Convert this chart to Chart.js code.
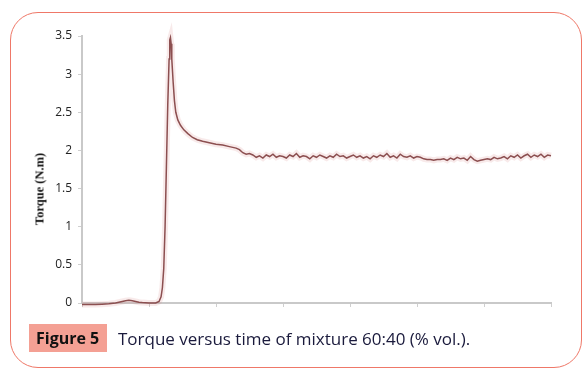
<!doctype html>
<html lang="en">
<head>
  <meta charset="utf-8" />
  <title>Torque versus time</title>
  <script src="https://cdn.jsdelivr.net/npm/chart.js@4.4.1/dist/chart.umd.min.js"></script>
  <style>
    body { margin: 0; background: #fff; width: 586px; height: 373px; position: relative; overflow: hidden; }
    .frame {
      position: absolute; left: 10px; top: 12px; width: 570px; height: 354px;
      border: 1.5px solid #ef7868; border-radius: 28px;
    }
    .chartBox { position: absolute; left: 0; top: 0; width: 586px; height: 330px; }
    .yTitle {
      position: absolute; left: 40px; top: 189px; white-space: nowrap;
      font-family: "Liberation Serif", serif; font-weight: bold; font-size: 12.5px; color: #111;
      transform: translate(-50%, -50%) rotate(-90deg);
    }
    .caption {
      position: absolute; left: 29px; top: 324px; height: 28px;
      font-family: "Open Sans", sans-serif; font-size: 17px; color: #1a1a3c;
      display: flex; align-items: center; white-space: nowrap;
    }
    .caption .tag {
      background: #f4a094; font-weight: bold; color: #111; font-size: 16px;
      height: 28px; line-height: 28px; padding: 0 7px; width: 64px; margin-right: 11px;
    }
  </style>
</head>
<body>
  <div class="frame"></div>
  <div class="chartBox"><canvas id="torqueChart"></canvas></div>
  <div class="yTitle">Torque (N.m)</div>
  <div class="caption"><span class="tag">Figure 5</span>Torque versus time of mixture 60:40 (% vol.).</div>
<script>
  // time (arbitrary units, one tick = 100) and torque (N.m)
  var times = [0, 10, 20, 30, 40, 50, 55, 60, 65, 70, 75, 80, 85, 90, 100, 110, 115, 118, 120, 122, 124, 126, 128, 130, 131, 132, 133, 134, 136, 138, 140, 143, 147, 152, 158, 165, 172, 180, 190, 200, 210, 220, 230, 235, 240, 245, 250,
    255, 260, 265, 270, 275, 280, 285, 290, 295, 300, 305, 310, 315, 320, 325, 330, 335, 340, 345, 350, 355, 360, 365, 370, 375, 380, 385, 390, 395, 400,
    405, 410, 415, 420, 425, 430, 435, 440, 445, 450, 455, 460, 465, 470, 475, 480, 485, 490, 495, 500, 505, 510, 515, 520, 525, 530, 535, 540, 545, 550,
    555, 560, 565, 570, 575, 580, 585, 590, 595, 600, 605, 610, 615, 620, 625, 630, 635, 640, 645, 650, 655, 660, 665, 670, 675, 680, 685, 690, 695, 700];
  var torque = [-0.02, -0.02, -0.02, -0.015, -0.01, 0.0, 0.01, 0.02, 0.03, 0.035, 0.03, 0.02, 0.01, 0.005, 0.0, 0.0, 0.02, 0.08, 0.2, 0.45, 1.0, 1.8, 2.6, 3.2, 3.45, 3.48, 3.4, 3.2, 2.9, 2.65, 2.5, 2.4, 2.33, 2.27, 2.22, 2.17, 2.14, 2.12, 2.1, 2.08, 2.07, 2.05, 2.03, 2.01, 1.97, 1.95, 1.96,
    1.94, 1.91, 1.93, 1.90, 1.94, 1.92, 1.95, 1.91, 1.93, 1.92, 1.90, 1.94, 1.92, 1.96, 1.91, 1.93, 1.92, 1.89, 1.93, 1.91, 1.94, 1.92, 1.90, 1.93, 1.91, 1.95, 1.92, 1.93, 1.90, 1.92,
    1.94, 1.91, 1.93, 1.90, 1.92, 1.89, 1.93, 1.91, 1.94, 1.92, 1.96, 1.91, 1.93, 1.90, 1.95, 1.92, 1.91, 1.93, 1.90, 1.92, 1.91, 1.89, 1.88, 1.88, 1.87, 1.88, 1.88, 1.89, 1.87, 1.90,
    1.88, 1.91, 1.89, 1.90, 1.87, 1.92, 1.88, 1.86, 1.87, 1.88, 1.89, 1.88, 1.91, 1.89, 1.90, 1.92, 1.89, 1.93, 1.91, 1.94, 1.90, 1.93, 1.95, 1.91, 1.94, 1.92, 1.95, 1.91, 1.94, 1.93];
  var yTicks = [0, 0.5, 1, 1.5, 2, 2.5, 3, 3.5];

  var points = times.map(function(t, i) { return { x: t, y: torque[i] }; });

  var ctx = document.getElementById('torqueChart').getContext('2d');
  var chart = new Chart(ctx, {
    type: 'line',
    data: {
      datasets: [{
        data: points,
        borderColor: '#8c4f50',
        borderWidth: 1.5,
        pointRadius: 0,
        tension: 0,
        clip: false
      }, {
        // soft pinkish halo round the trace
        data: points,
        borderColor: 'rgba(215,140,140,0.18)',
        borderWidth: 6,
        pointRadius: 0,
        tension: 0,
        clip: false
      }]
    },
    options: {
      responsive: true,
      maintainAspectRatio: false,
      animation: false,
      layout: { padding: { left: 33, right: 35, top: 36, bottom: 17 } },
      plugins: { legend: { display: false }, tooltip: { enabled: false } },
      scales: {
        x: {
          type: 'linear',
          min: 0, max: 700,
          grid: { drawOnChartArea: false, drawTicks: true, tickLength: 4, color: '#cfcfcf' },
          border: { display: true, color: '#c9c9c9', width: 2 },
          ticks: { stepSize: 100, display: false },
          afterFit: function(scale) { scale.height = 10; }
        },
        y: {
          min: 0, max: 3.5,
          afterBuildTicks: function(scale) { scale.ticks = yTicks.map(function(v) { return { value: v }; }); },
          grid: { drawOnChartArea: false, drawTicks: true, tickLength: 4, color: '#cfcfcf' },
          border: { display: true, color: '#c9c9c9', width: 2 },
          ticks: {
            color: '#222', padding: 6, font: { family: 'Open Sans', size: 12 },
            callback: function(v) { return String(v); }
          },
          afterFit: function(scale) { scale.width = 49; }
        }
      }
    }
  });
</script>
</body>
</html>
